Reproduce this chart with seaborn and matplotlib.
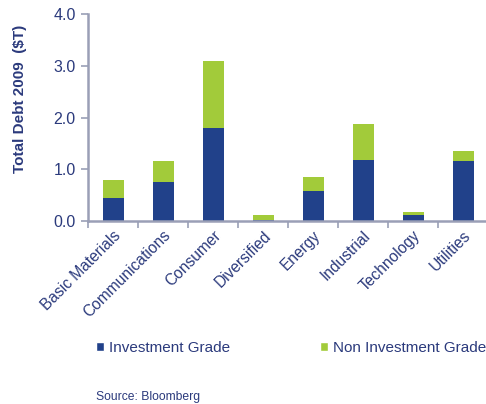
import matplotlib
matplotlib.use("Agg")
import matplotlib.pyplot as plt
import seaborn as sns
import pandas as pd
import numpy as np
from matplotlib.patches import Patch

categories = ["Basic Materials", "Communications", "Consumer", "Diversified",
              "Energy", "Industrial", "Technology", "Utilities"]
investment_grade = [0.45, 0.76, 1.79, 0.01, 0.58, 1.18, 0.11, 1.15]
non_investment_grade = [0.34, 0.40, 1.30, 0.10, 0.27, 0.69, 0.07, 0.20]
yticks = [0.0, 1.0, 2.0, 3.0, 4.0]

NAVY = "#21418A"
GREEN = "#A2CB3A"
TEXT = "#2B3A7C"
AXIS = "#9A9FB6"

sns.set_theme(style="white")
plt.rcParams["font.family"] = ["Liberation Sans", "DejaVu Sans"]

df = pd.DataFrame({
    "Sector": categories,
    "IG": investment_grade,
    "Total": [a + b for a, b in zip(investment_grade, non_investment_grade)],
})

fig = plt.figure(figsize=(4.86, 4.04), dpi=100)
ax = fig.add_axes([88 / 486, 1 - 221 / 404, 400 / 486, (221 - 14) / 404])

sns.barplot(data=df, x="Sector", y="Total", color=GREEN, width=0.42,
            saturation=1, ax=ax, linewidth=0)
sns.barplot(data=df, x="Sector", y="IG", color=NAVY, width=0.42,
            saturation=1, ax=ax, linewidth=0)

ax.set_xlim(-0.5, len(categories) - 0.5)
ax.set_ylim(0, 4.0)
ax.set_yticks(yticks)
ax.set_yticklabels([f"{v:.1f}" for v in yticks], fontsize=11.5, color=TEXT)

# x: ticks at boundaries, labels at centers
ax.set_xticks(np.arange(-0.5, len(categories), 1.0))
ax.set_xticklabels([])
ax.set_xticks(np.arange(len(categories)), minor=True)
ax.set_xticklabels(categories, minor=True)
ax.tick_params(axis="x", which="minor", length=0, pad=5)
ax.tick_params(axis="x", which="major", length=5, width=1.2, color=AXIS,
               direction="out", bottom=True)
ax.tick_params(axis="y", length=5, width=1.2, color=AXIS, direction="out",
               left=True, pad=4)
for lab in ax.get_xticklabels(minor=True):
    lab.set_rotation(45)
    lab.set_ha("right")
    lab.set_rotation_mode("anchor")
    lab.set_fontsize(11.2)
    lab.set_color(TEXT)

ax.set_xlabel("")
ax.set_ylabel("Total Debt 2009  ($T)", fontsize=11, fontweight="bold",
              color=TEXT)
ax.yaxis.set_label_coords(-(88 - 27) / 400, (221 - 99) / 207)

for s in ["top", "right"]:
    ax.spines[s].set_visible(False)
for s in ["left", "bottom"]:
    ax.spines[s].set_color(AXIS)
    ax.spines[s].set_linewidth(1.8)

handles = [Patch(facecolor=NAVY, label="Investment Grade"),
           Patch(facecolor=GREEN, label="Non Investment Grade")]
fig.legend(handles=handles, loc="center left",
           bbox_to_anchor=(88 / 486, 1 - 348 / 404), ncol=2, frameon=False,
           fontsize=11, handlelength=0.55, handleheight=0.55,
           handletextpad=0.3, columnspacing=5.9, borderpad=0,
           labelcolor=TEXT)

fig.text(96 / 486, 1 - 397 / 404, "Source: Bloomberg", fontsize=8.7,
         color=TEXT, va="center", ha="left")

fig.savefig("out.png", dpi=100)
